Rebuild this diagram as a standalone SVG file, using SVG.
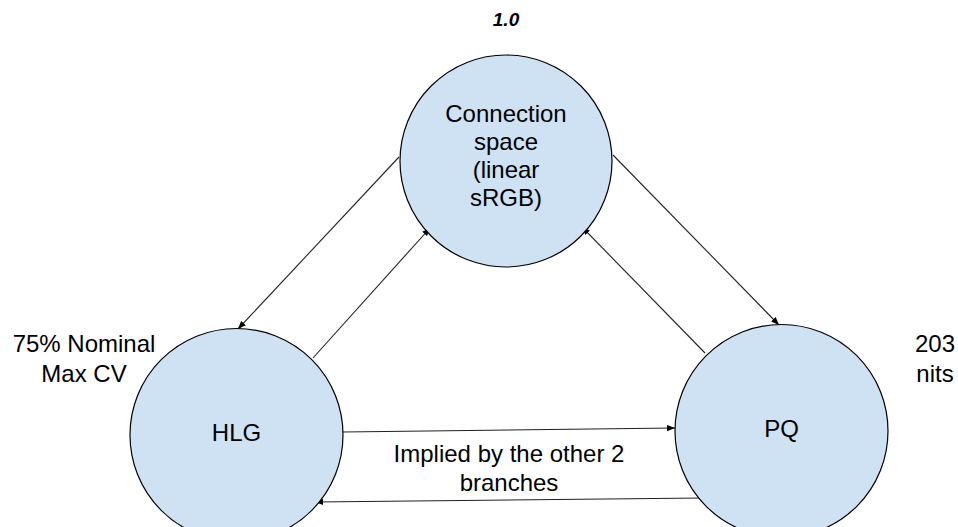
<svg xmlns="http://www.w3.org/2000/svg" width="958" height="527" viewBox="0 0 958 527">
  <defs>
    <style>
      .node { fill: #cfe2f3; stroke: #000; stroke-width: 1.2; }
      .lbl { font-family: "Liberation Sans", Arial, sans-serif; font-size: 24px; fill: #000; text-anchor: middle; }
      .conn { stroke: #222; stroke-width: 1.1; fill: none; marker-end: url(#arr); }
      .title { font-family: "Liberation Sans", Arial, sans-serif; font-size: 19px; font-weight: bold; font-style: italic; fill: #000; text-anchor: middle; }
    </style>
    <marker id="arr" markerUnits="userSpaceOnUse" markerWidth="10" markerHeight="8" refX="8" refY="4" orient="auto">
      <path d="M0,0.8 L8,4 L0,7.2 Z" fill="#000"/>
    </marker>
  </defs>
  <rect width="958" height="527" fill="#fff"/>

  <text class="title" x="506" y="26">1.0</text>

  <g id="connectors">
    <line class="conn" x1="399" y1="157" x2="238" y2="329"/>
    <line class="conn" x1="313" y1="358" x2="430" y2="228"/>
    <line class="conn" x1="613" y1="155" x2="779" y2="325"/>
    <line class="conn" x1="705" y1="353" x2="582" y2="227"/>
    <line class="conn" x1="343" y1="432" x2="675" y2="428"/>
    <line class="conn" x1="703" y1="498" x2="315" y2="502"/>
  </g>

  <g id="node-connection">
    <circle class="node" cx="506" cy="161" r="106"/>
    <text class="lbl" x="506" y="122">Connection</text>
    <text class="lbl" x="506" y="150">space</text>
    <text class="lbl" x="506" y="178">(linear</text>
    <text class="lbl" x="506" y="206">sRGB)</text>
  </g>

  <g id="node-hlg">
    <circle class="node" cx="236.5" cy="435" r="106.5"/>
    <text class="lbl" x="236.5" y="441">HLG</text>
  </g>

  <g id="node-pq">
    <circle class="node" cx="781.5" cy="431" r="106.5"/>
    <text class="lbl" x="781.5" y="437">PQ</text>
  </g>

  <g id="label-hlg">
    <text class="lbl" x="84" y="352">75% Nominal</text>
    <text class="lbl" x="84" y="382">Max CV</text>
  </g>

  <g id="label-pq">
    <text class="lbl" x="935" y="352">203</text>
    <text class="lbl" x="935" y="382">nits</text>
  </g>

  <g id="label-implied">
    <text class="lbl" x="509" y="462">Implied by the other 2</text>
    <text class="lbl" x="509" y="491">branches</text>
  </g>
</svg>
